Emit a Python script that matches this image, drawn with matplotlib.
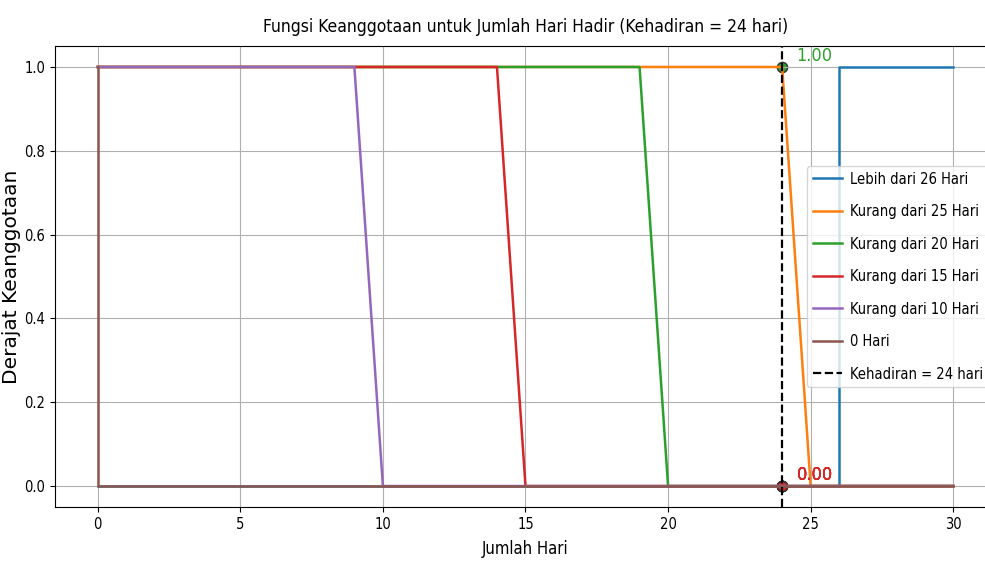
import numpy as np
import matplotlib
matplotlib.use('Agg')
import matplotlib.pyplot as plt
from matplotlib import font_manager as fm

# breakpoints of each membership function (x = days, y = degree)
labels = ['Lebih dari 26 Hari', 'Kurang dari 25 Hari', 'Kurang dari 20 Hari',
          'Kurang dari 15 Hari', 'Kurang dari 10 Hari', '0 Hari']
xs = [[0, 26, 26, 30],
      [0, 24, 25, 30],
      [0, 19, 20, 30],
      [0, 14, 15, 30],
      [0, 9, 10, 30],
      [0, 0, 30]]
ys = [[0, 0, 1, 1],
      [1, 1, 0, 0],
      [1, 1, 0, 0],
      [1, 1, 0, 0],
      [1, 1, 0, 0],
      [1, 0, 0]]
kehadiran = 24
nilai = [0.0, 1.0, 0.0, 0.0, 0.0, 0.0]   # membership at 24 days

# the reference looks squeezed sideways -> look for a narrow face
def find_narrow():
    paths = [f.fname for f in fm.fontManager.ttflist]
    wanted = ['NotoSans-ExtraCondensed.', 'NotoSans-Condensed.', 'LiberationSansNarrow-Regular',
              'DejaVuSansCondensed.', 'NotoSans-SemiCondensed.']
    for w in wanted:
        for p in paths:
            if w in p.split('/')[-1]:
                return fm.FontProperties(fname=p)
    for p in paths:
        n = p.split('/')[-1].lower()
        if ('condensed' in n or 'narrow' in n) and 'bold' not in n and 'italic' not in n \
                and 'light' not in n and 'thin' not in n and 'black' not in n and 'medium' not in n:
            return fm.FontProperties(fname=p)
    return None

fp = find_narrow()
scale = 1.0 if fp is not None else 0.85
if fp is None:
    fp = fm.FontProperties(family='DejaVu Sans')

def narrow(size):
    p = fp.copy()
    p.set_size(size * scale)
    return p

fig = plt.figure(figsize=(9.85, 5.71), dpi=100)
ax = fig.add_axes([0.0558, 0.1121, 0.9554, 0.8073])

for x, y, lab in zip(xs, ys, labels):
    ax.plot(x, y, lw=1.8, label=lab)

ax.axvline(kehadiran, color='k', ls='--', lw=1.6, label='Kehadiran = %d hari' % kehadiran)

for v in nilai:
    c = 'tab:green' if v > 0 else 'tab:red'
    ax.scatter(kehadiran, v, s=55, color=c, edgecolor='#333333', zorder=1)
    ax.text(kehadiran + 0.5, v + 0.005, '%.2f' % v, color=c, va='bottom',
            fontproperties=narrow(13))

ax.set_title('Fungsi Keanggotaan untuk Jumlah Hari Hadir (Kehadiran = %d hari)' % kehadiran,
             fontproperties=narrow(12.5), pad=10)
ax.set_xlabel('Jumlah Hari', fontproperties=narrow(12), labelpad=6)
ax.set_ylabel('Derajat Keanggotaan', fontsize=14.5, family='DejaVu Sans')
ax.yaxis.set_label_coords(-0.036, 0.5)
for lbl in ax.get_xticklabels() + ax.get_yticklabels():
    lbl.set_fontproperties(narrow(10.5))
ax.grid(True)
ax.legend(loc='center right', prop=narrow(10.5), labelspacing=1.2,
          handlelength=2.0, handletextpad=0.5)

fig.savefig('out.png', dpi=100)
